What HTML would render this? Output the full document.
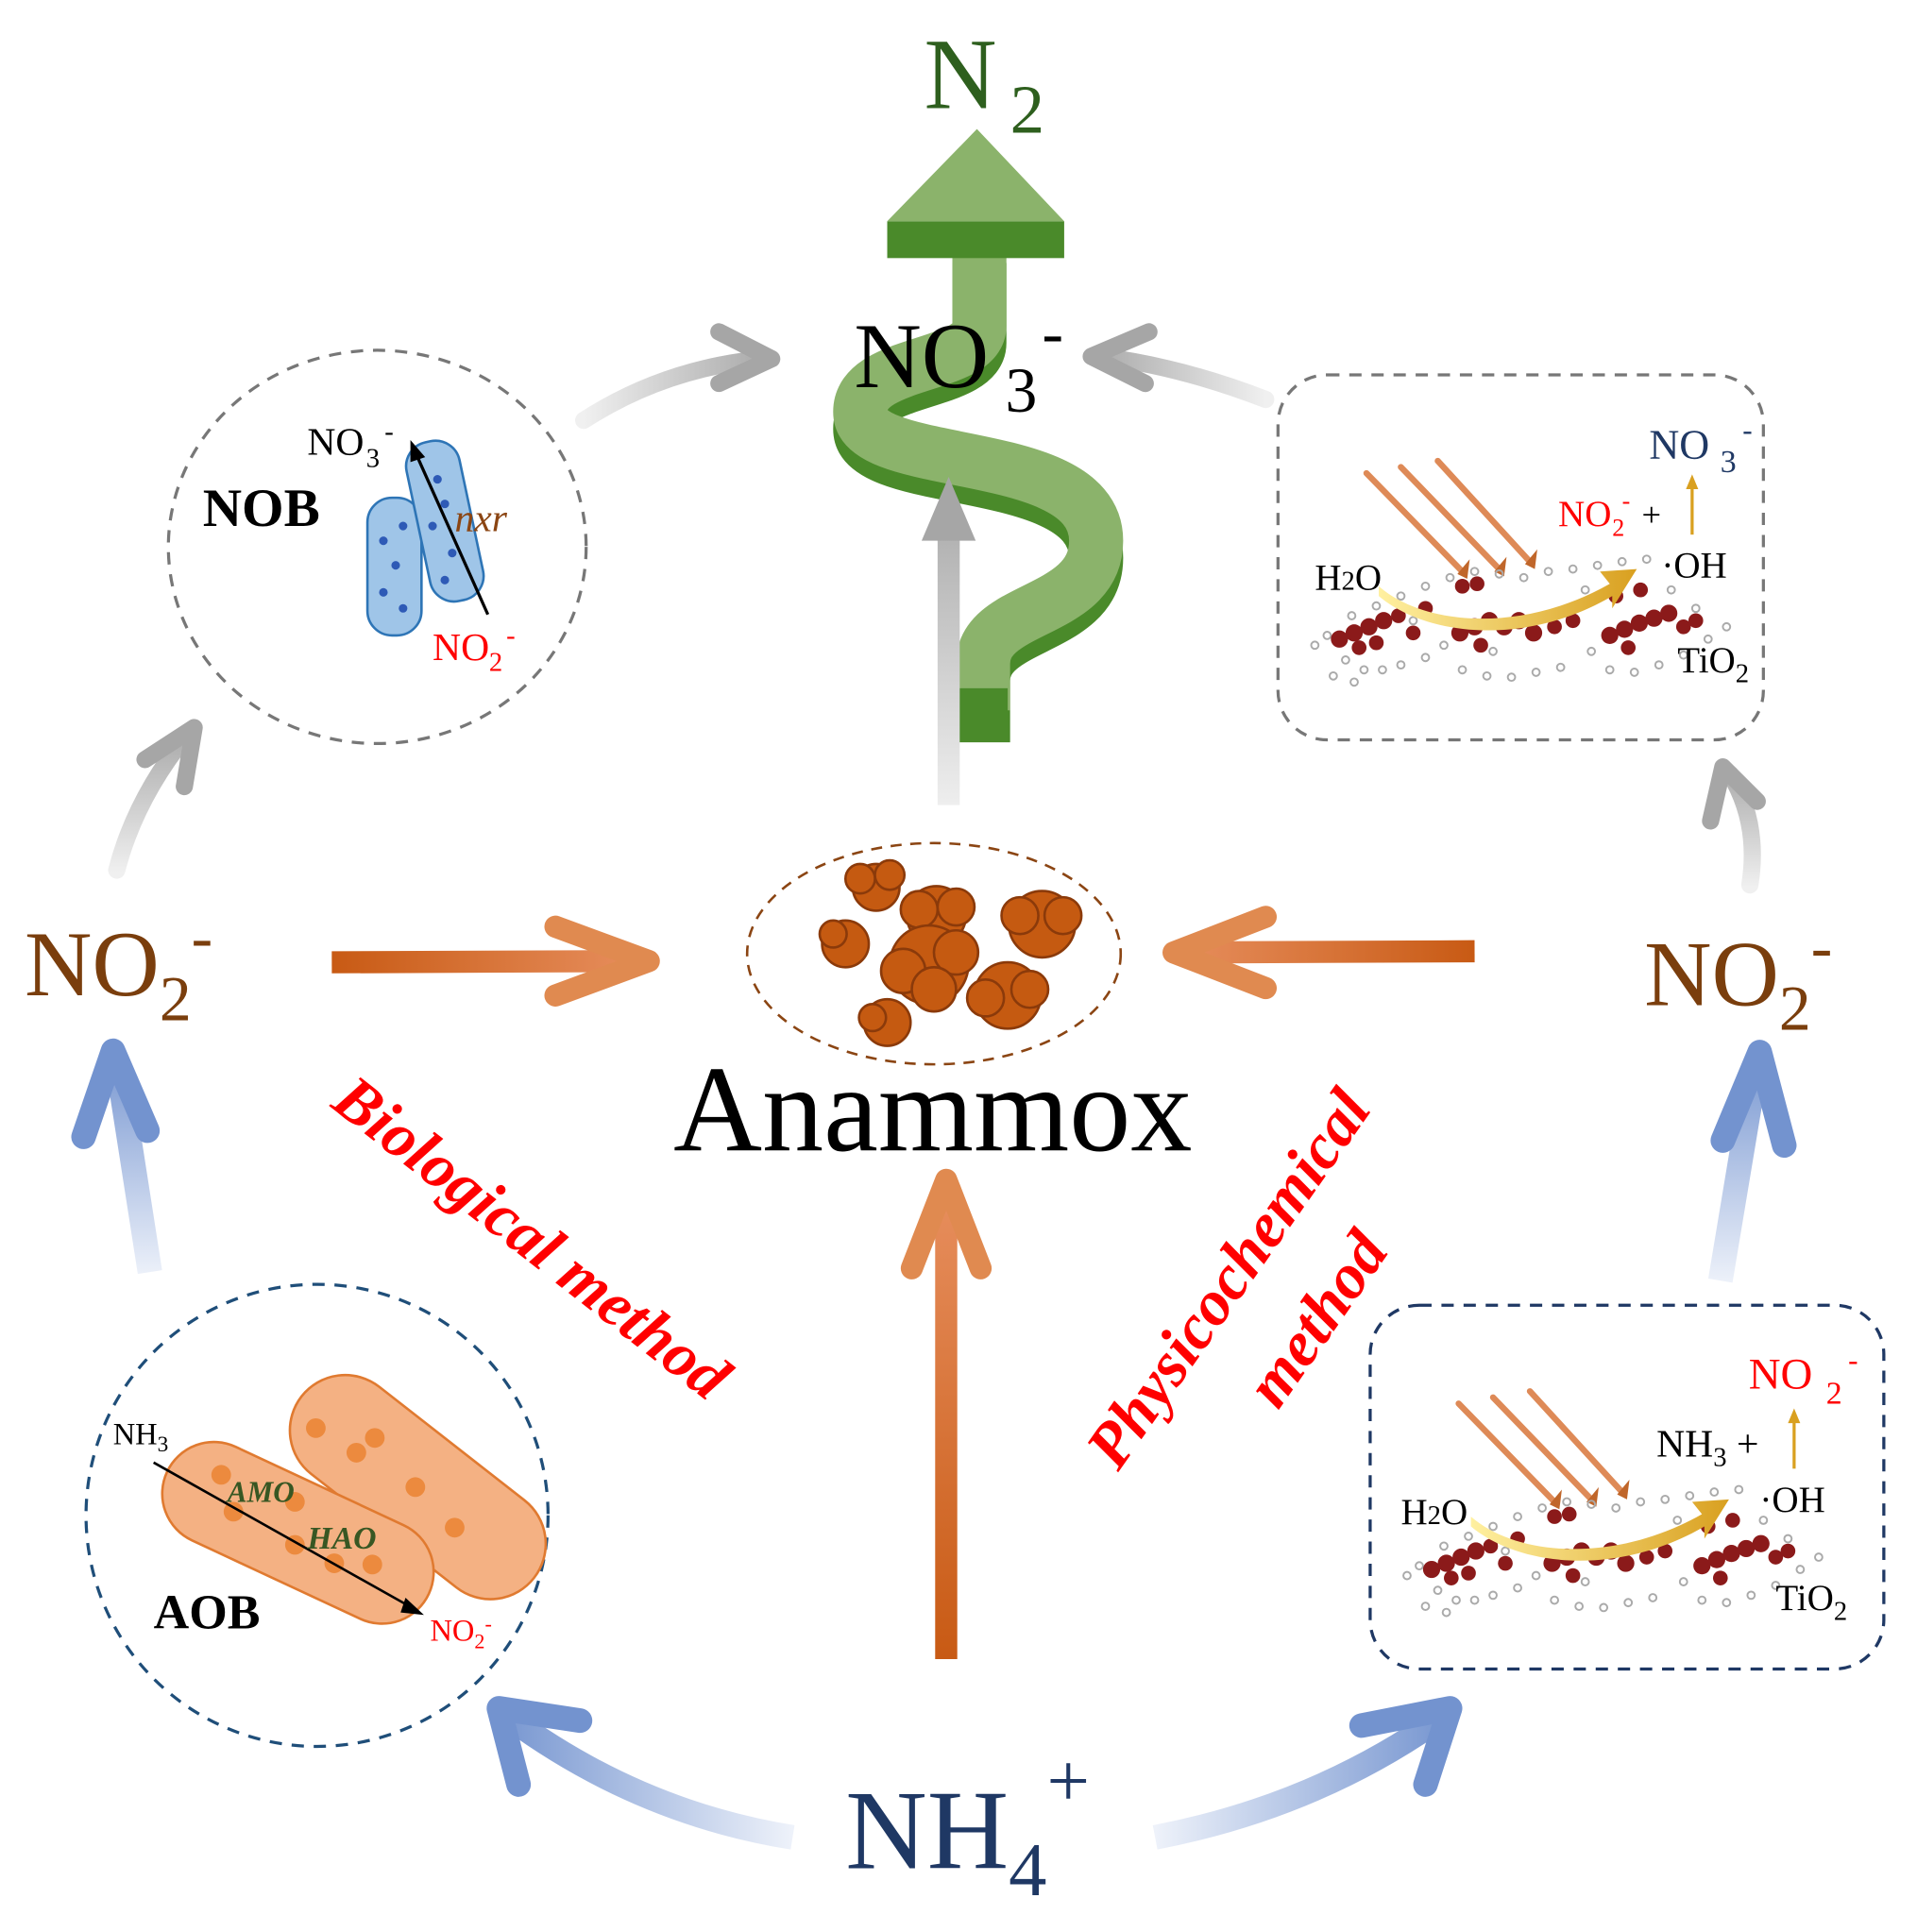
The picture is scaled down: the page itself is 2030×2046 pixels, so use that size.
<!DOCTYPE html>
<html><head><meta charset="utf-8"><style>
html,body{margin:0;padding:0;background:#fff}
svg{display:block}
text{font-family:"Liberation Serif","Times New Roman",serif}
</style></head><body>
<svg width="2030" height="2046" viewBox="0 0 1560 1572" preserveAspectRatio="none" xmlns="http://www.w3.org/2000/svg" font-family="'Liberation Serif', serif">
<defs>
<linearGradient id="oL" gradientUnits="userSpaceOnUse" x1="270" y1="0" x2="530" y2="0"><stop offset="0" stop-color="#c85a14"/><stop offset="1" stop-color="#e89060"/></linearGradient>
<linearGradient id="oR" gradientUnits="userSpaceOnUse" x1="1200" y1="0" x2="950" y2="0"><stop offset="0" stop-color="#c85a14"/><stop offset="1" stop-color="#e89060"/></linearGradient>
<linearGradient id="oV" gradientUnits="userSpaceOnUse" x1="0" y1="1350" x2="0" y2="955"><stop offset="0" stop-color="#c85a14"/><stop offset="1" stop-color="#e89060"/></linearGradient>
<linearGradient id="bL" gradientUnits="userSpaceOnUse" x1="0" y1="1040" x2="0" y2="850"><stop offset="0" stop-color="#eef2fa"/><stop offset="1" stop-color="#7393cf"/></linearGradient>
<linearGradient id="bR" gradientUnits="userSpaceOnUse" x1="0" y1="1045" x2="0" y2="850"><stop offset="0" stop-color="#eef2fa"/><stop offset="1" stop-color="#7393cf"/></linearGradient>
<linearGradient id="bBL" gradientUnits="userSpaceOnUse" x1="645" y1="0" x2="400" y2="0"><stop offset="0" stop-color="#eef2fa"/><stop offset="1" stop-color="#7393cf"/></linearGradient>
<linearGradient id="bBR" gradientUnits="userSpaceOnUse" x1="940" y1="0" x2="1185" y2="0"><stop offset="0" stop-color="#eef2fa"/><stop offset="1" stop-color="#7393cf"/></linearGradient>
<linearGradient id="gV" gradientUnits="userSpaceOnUse" x1="0" y1="655" x2="0" y2="390"><stop offset="0" stop-color="#eeeeee"/><stop offset="1" stop-color="#a6a6a6"/></linearGradient>
<linearGradient id="g1" gradientUnits="userSpaceOnUse" x1="475" y1="0" x2="630" y2="0"><stop offset="0" stop-color="#f0f0f0"/><stop offset="1" stop-color="#a6a6a6"/></linearGradient>
<linearGradient id="g2" gradientUnits="userSpaceOnUse" x1="1030" y1="0" x2="885" y2="0"><stop offset="0" stop-color="#f0f0f0"/><stop offset="1" stop-color="#a6a6a6"/></linearGradient>
<linearGradient id="g3" gradientUnits="userSpaceOnUse" x1="0" y1="710" x2="0" y2="590"><stop offset="0" stop-color="#f0f0f0"/><stop offset="1" stop-color="#a6a6a6"/></linearGradient>
<linearGradient id="g4" gradientUnits="userSpaceOnUse" x1="0" y1="722" x2="0" y2="620"><stop offset="0" stop-color="#f0f0f0"/><stop offset="1" stop-color="#a6a6a6"/></linearGradient>
<linearGradient id="gold" x1="0" y1="0" x2="1" y2="0"><stop offset="0" stop-color="#fff0a0"/><stop offset="1" stop-color="#d9a020"/></linearGradient>

<g id="scene">
  <g stroke="#d9763a" stroke-width="5" stroke-linecap="round" opacity="0.85">
    <line x1="72" y1="80" x2="150" y2="160"/>
    <line x1="100" y1="75" x2="180" y2="158"/>
    <line x1="130" y1="70" x2="205" y2="152"/>
  </g>
  <g fill="#c0662a"><polygon points="146,162 156,150 154,166"/><polygon points="176,160 186,148 184,164"/><polygon points="201,154 211,142 209,158"/></g>
  <g fill="none" stroke="#aaa" stroke-width="1.5">
    <circle cx="30" cy="220" r="3"/><circle cx="40" cy="212" r="3"/><circle cx="55" cy="232" r="3"/><circle cx="70" cy="240" r="3"/><circle cx="85" cy="240" r="3"/><circle cx="100" cy="236" r="3"/><circle cx="60" cy="196" r="3"/><circle cx="80" cy="188" r="3"/><circle cx="100" cy="180" r="3"/><circle cx="120" cy="172" r="3"/><circle cx="140" cy="165" r="3"/><circle cx="160" cy="160" r="3"/><circle cx="180" cy="162" r="3"/><circle cx="200" cy="165" r="3"/><circle cx="220" cy="160" r="3"/><circle cx="240" cy="158" r="3"/><circle cx="260" cy="155" r="3"/><circle cx="280" cy="152" r="3"/><circle cx="300" cy="150" r="3"/><circle cx="150" cy="240" r="3"/><circle cx="170" cy="245" r="3"/><circle cx="190" cy="246" r="3"/><circle cx="210" cy="242" r="3"/><circle cx="230" cy="238" r="3"/><circle cx="270" cy="240" r="3"/><circle cx="290" cy="242" r="3"/><circle cx="310" cy="236" r="3"/><circle cx="330" cy="228" r="3"/><circle cx="350" cy="215" r="3"/><circle cx="365" cy="205" r="3"/><circle cx="120" cy="230" r="3"/><circle cx="135" cy="220" r="3"/>
    <circle cx="45" cy="245" r="3"/><circle cx="62" cy="250" r="3"/><circle cx="110" cy="200" r="3"/><circle cx="250" cy="175" r="3"/><circle cx="320" cy="175" r="3"/><circle cx="340" cy="190" r="3"/><circle cx="175" cy="225" r="3"/><circle cx="255" cy="225" r="3"/>
  </g>
  <g fill="#8b1a1a">
    <circle cx="50" cy="215" r="7"/><circle cx="62" cy="210" r="7"/><circle cx="74" cy="205" r="7"/><circle cx="86" cy="200" r="7"/><circle cx="66" cy="222" r="6"/><circle cx="80" cy="218" r="6"/><circle cx="98" cy="196" r="6"/><circle cx="110" cy="210" r="6"/>
    <circle cx="148" cy="210" r="7"/><circle cx="160" cy="205" r="7"/><circle cx="172" cy="200" r="7"/><circle cx="184" cy="205" r="7"/><circle cx="196" cy="200" r="7"/><circle cx="208" cy="210" r="7"/><circle cx="150" cy="172" r="6"/><circle cx="162" cy="170" r="6"/><circle cx="120" cy="190" r="6"/><circle cx="165" cy="220" r="6"/><circle cx="225" cy="205" r="6"/><circle cx="240" cy="200" r="6"/>
    <circle cx="270" cy="212" r="7"/><circle cx="282" cy="207" r="7"/><circle cx="294" cy="202" r="7"/><circle cx="306" cy="198" r="7"/><circle cx="318" cy="194" r="7"/><circle cx="285" cy="222" r="6"/><circle cx="275" cy="180" r="6"/><circle cx="295" cy="175" r="6"/><circle cx="330" cy="205" r="6"/><circle cx="340" cy="200" r="6"/>
  </g>
  <path d="M82,172 C120,205 200,210 270,170 L262,160 L292,158 L272,190 L272,180 C200,222 120,212 82,180 Z" fill="url(#gold)"/>
</g>
</defs>

<g fill="none" stroke-linecap="butt">
  <path d="M797,200 L797,265 C797,300 700,292 700,335 C700,385 892,360 892,440 C892,500 800,492 800,540 L800,590" stroke="#4a8a2a" stroke-width="44" transform="translate(0,14)"/>
  <path d="M797,200 L797,265 C797,300 700,292 700,335 C700,385 892,360 892,440 C892,500 800,492 800,540 L800,578" stroke="#8bb36b" stroke-width="44"/>
</g>
<rect x="778" y="560" width="42" height="33" fill="#4a8a2a"/>
<rect x="722" y="180" width="144" height="30" fill="#4a8a2a"/>
<polygon points="722,180 866,180 795,105" fill="#8bb36b"/>
<text x="752" y="88" font-size="82" fill="#2e5f1e">N</text>
<text x="822" y="108" font-size="56" fill="#2e5f1e">2</text>

<line x1="772" y1="655" x2="772" y2="420" stroke="url(#gV)" stroke-width="18"/>
<polygon points="750,440 772,388 794,440" fill="#a6a6a6"/>

<text x="695" y="315" font-size="76" fill="#000">NO</text>
<text x="818" y="335" font-size="52">3</text>
<text x="848" y="288" font-size="52">-</text>

<g fill="none" stroke-width="14" stroke-linecap="round" stroke-linejoin="round">
  <path d="M475,342 Q540,300 620,292" stroke="url(#g1)"/>
  <polyline points="585,270 628,292 585,312" stroke="#a6a6a6"/>
  <path d="M1030,325 Q960,298 895,290" stroke="url(#g2)"/>
  <polyline points="935,270 888,290 932,312" stroke="#a6a6a6"/>
  <path d="M95,708 Q110,650 152,598" stroke="url(#g3)"/>
  <polyline points="118,618 158,592 150,640" stroke="#a6a6a6"/>
  <path d="M1424,720 Q1432,670 1408,630" stroke="url(#g4)"/>
  <polyline points="1392,668 1402,624 1430,652" stroke="#a6a6a6"/>
</g>

<ellipse cx="307" cy="445" rx="170" ry="160" fill="none" stroke="#777" stroke-width="2.5" stroke-dasharray="10,8"/>
<rect x="299" y="405" width="44" height="112" rx="20" fill="#9fc5e8" stroke="#2e75b6" stroke-width="2"/>
<rect x="340" y="358" width="44" height="132" rx="20" fill="#9fc5e8" stroke="#2e75b6" stroke-width="2" transform="rotate(-12 362 424)"/>
<g fill="#2e5ab6"><circle cx="312" cy="440" r="3.5"/><circle cx="328" cy="428" r="3.5"/><circle cx="322" cy="460" r="3.5"/><circle cx="312" cy="482" r="3.5"/><circle cx="328" cy="495" r="3.5"/><circle cx="356" cy="390" r="3.5"/><circle cx="362" cy="410" r="3.5"/><circle cx="352" cy="428" r="3.5"/><circle cx="368" cy="450" r="3.5"/><circle cx="362" cy="472" r="3.5"/></g>
<line x1="397" y1="500" x2="338" y2="368" stroke="#000" stroke-width="2.5"/>
<polygon points="334,358 346,372 334,376" fill="#000"/>
<text x="250" y="370" font-size="32">NO</text><text x="298" y="380" font-size="22">3</text><text x="313" y="358" font-size="22">-</text>
<text x="165" y="428" font-size="44" font-weight="bold">NOB</text>
<text x="370" y="432" font-size="32" font-style="italic" fill="#8b4513">nxr</text>
<text x="352" y="537" font-size="32" fill="#ff0000">NO</text><text x="398" y="546" font-size="22" fill="#ff0000">2</text><text x="412" y="524" font-size="22" fill="#ff0000">-</text>

<rect x="1040" y="305" width="395" height="297" rx="40" fill="none" stroke="#777" stroke-width="2.5" stroke-dasharray="10,8"/>
<use href="#scene" transform="translate(1040,305)"/>
<text x="1342" y="373" font-size="34" fill="#1f3864">NO</text><text x="1400" y="384" font-size="26" fill="#1f3864">3</text><text x="1418" y="358" font-size="24" fill="#1f3864">-</text>
<text x="1268" y="428" font-size="30" fill="#ff0000">NO</text><text x="1312" y="436" font-size="20" fill="#ff0000">2</text><text x="1320" y="414" font-size="20" fill="#ff0000">-</text><text x="1336" y="428" font-size="28">+</text>
<line x1="1377" y1="435" x2="1377" y2="395" stroke="#d9a020" stroke-width="2.5"/><polygon points="1372,398 1377,386 1382,398" fill="#d9a020"/>
<text x="1352" y="470" font-size="30">·OH</text>
<text x="1070" y="480" font-size="30">H<tspan font-size="22">2</tspan>O</text>
<text x="1365" y="547" font-size="30">TiO<tspan font-size="22" dy="8">2</tspan></text>

<rect x="1115" y="1062" width="418" height="296" rx="40" fill="none" stroke="#1f3864" stroke-width="2.5" stroke-dasharray="10,8"/>
<use href="#scene" transform="translate(1115,1062)"/>
<text x="1423" y="1130" font-size="36" fill="#ff0000">NO</text><text x="1486" y="1142" font-size="26" fill="#ff0000">2</text><text x="1504" y="1115" font-size="24" fill="#ff0000">-</text>
<text x="1348" y="1185" font-size="32">NH<tspan font-size="22" dy="8">3</tspan><tspan dy="-8"> +</tspan></text>
<line x1="1460" y1="1195" x2="1460" y2="1155" stroke="#d9a020" stroke-width="2.5"/><polygon points="1455,1158 1460,1146 1465,1158" fill="#d9a020"/>
<text x="1432" y="1230" font-size="30">·OH</text>
<text x="1140" y="1240" font-size="30">H<tspan font-size="22">2</tspan>O</text>
<text x="1445" y="1310" font-size="30">TiO<tspan font-size="22" dy="8">2</tspan></text>

<circle cx="258" cy="1233" r="188" fill="none" stroke="#1f4e79" stroke-width="2.5" stroke-dasharray="10,8"/>
<rect x="220" y="1165" width="240" height="90" rx="45" fill="#f4b183" stroke="#e07a30" stroke-width="2" transform="rotate(38 340 1210)"/>
<rect x="125" y="1205" width="235" height="84" rx="42" fill="#f4b183" stroke="#e07a30" stroke-width="2" transform="rotate(25 242 1247)"/>
<g fill="#ec8a3e"><circle cx="257" cy="1162" r="8"/><circle cx="290" cy="1182" r="8"/><circle cx="305" cy="1170" r="8"/><circle cx="338" cy="1210" r="8"/><circle cx="370" cy="1243" r="8"/><circle cx="180" cy="1200" r="8"/><circle cx="190" cy="1230" r="8"/><circle cx="240" cy="1257" r="8"/><circle cx="272" cy="1272" r="8"/><circle cx="303" cy="1273" r="8"/><circle cx="240" cy="1222" r="8"/></g>
<line x1="125" y1="1190" x2="335" y2="1308" stroke="#000" stroke-width="2"/>
<polygon points="345,1314 330,1300 326,1312" fill="#000"/>
<text x="92" y="1175" font-size="25">NH<tspan font-size="18" dy="6">3</tspan></text>
<text x="185" y="1222" font-size="24" font-style="italic" font-weight="bold" fill="#385723">AMO</text>
<text x="250" y="1260" font-size="26" font-style="italic" font-weight="bold" fill="#385723">HAO</text>
<text x="125" y="1325" font-size="40" font-weight="bold">AOB</text>
<text x="350" y="1335" font-size="25" fill="#ff0000">NO<tspan font-size="17" dy="6">2</tspan><tspan font-size="17" dy="-14">-</tspan></text>

<ellipse cx="760" cy="776" rx="152" ry="90" fill="none" stroke="#8b4513" stroke-width="2" stroke-dasharray="9,7"/>
<g fill="#c55a11" stroke="#8b3a0a" stroke-width="2">
  <circle cx="713" cy="722" r="19"/><circle cx="700" cy="715" r="12"/><circle cx="724" cy="712" r="12"/>
  <circle cx="688" cy="768" r="19"/><circle cx="678" cy="760" r="11"/>
  <circle cx="762" cy="745" r="24"/><circle cx="748" cy="740" r="15"/><circle cx="778" cy="738" r="15"/>
  <circle cx="756" cy="785" r="32"/><circle cx="735" cy="790" r="18"/><circle cx="778" cy="775" r="18"/><circle cx="760" cy="805" r="18"/>
  <circle cx="848" cy="752" r="27"/><circle cx="830" cy="745" r="15"/><circle cx="865" cy="745" r="15"/>
  <circle cx="820" cy="810" r="27"/><circle cx="802" cy="812" r="15"/><circle cx="838" cy="805" r="15"/>
  <circle cx="722" cy="832" r="19"/><circle cx="710" cy="828" r="11"/>
</g>
<text x="548" y="936" font-size="100">Anammox</text>

<text x="20" y="810" font-size="76" fill="#7a3e0d">NO<tspan font-size="52" dy="20">2</tspan><tspan font-size="52" dy="-50">-</tspan></text>
<text x="1338" y="818" font-size="76" fill="#7a3e0d">NO<tspan font-size="52" dy="20">2</tspan><tspan font-size="52" dy="-50">-</tspan></text>

<g fill="none" stroke-width="18" stroke-linejoin="round" stroke-linecap="round">
  <line x1="270" y1="783" x2="520" y2="782" stroke="url(#oL)" stroke-linecap="butt"/>
  <polyline points="452,754 528,782 452,810" stroke="#e08a50"/>
  <line x1="1200" y1="774" x2="965" y2="775" stroke="url(#oR)" stroke-linecap="butt"/>
  <polyline points="1030,746 955,775 1030,804" stroke="#e08a50"/>
  <line x1="770" y1="1350" x2="770" y2="970" stroke="url(#oV)" stroke-linecap="butt"/>
  <polyline points="742,1032 770,960 798,1032" stroke="#e08a50"/>
</g>

<g fill="none" stroke-width="20" stroke-linejoin="round" stroke-linecap="round">
  <path d="M122,1035 L95,862" stroke="url(#bL)" stroke-linecap="butt"/>
  <polyline points="68,925 92,855 120,920" stroke="#7393cf"/>
  <path d="M1400,1042 L1430,862" stroke="url(#bR)" stroke-linecap="butt"/>
  <polyline points="1402,928 1432,856 1452,932" stroke="#7393cf"/>
  <path d="M645,1495 Q520,1475 415,1398" stroke="url(#bBL)" stroke-linecap="butt"/>
  <polyline points="422,1452 406,1390 472,1400" stroke="#7393cf"/>
  <path d="M940,1495 Q1070,1470 1172,1398" stroke="url(#bBR)" stroke-linecap="butt"/>
  <polyline points="1108,1404 1180,1390 1160,1452" stroke="#7393cf"/>
</g>
<text x="688" y="1520" font-size="92" fill="#1f3864">NH<tspan font-size="62" dy="22">4</tspan><tspan font-size="62" dy="-72">+</tspan></text>

<text x="268" y="900" font-size="52" font-weight="bold" font-style="italic" fill="#ff0000" transform="rotate(38 268 900)">Biological method</text>
<text x="910" y="1198" font-size="52" font-weight="bold" font-style="italic" fill="#ff0000" transform="rotate(-55 910 1198)">Physicochemical</text>
<text x="1040" y="1148" font-size="52" font-weight="bold" font-style="italic" fill="#ff0000" transform="rotate(-55 1040 1148)">method</text>
</svg>
</body></html>
